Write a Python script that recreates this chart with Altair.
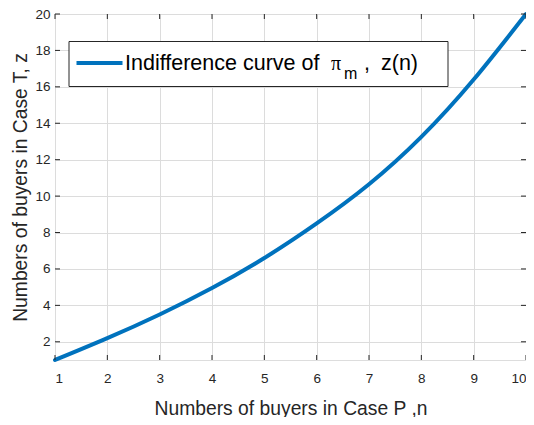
import altair as alt
import pandas as pd

# ---- data ----
n_values = [1, 2, 3, 4, 5, 6, 7, 8, 9, 10]
z_values = [1.0, 2.2, 3.5, 4.95, 6.6, 8.5, 10.65, 13.25, 16.4, 20.0]
x_ticks = [1, 2, 3, 4, 5, 6, 7, 8, 9, 10]
y_ticks = [2, 4, 6, 8, 10, 12, 14, 16, 18, 20]
x_label = "Numbers of buyers in Case P ,n"
y_label = "Numbers of buyers in Case T, z"
legend_main = "Indifference curve of"
legend_pi = "π"
legend_sub = "m"
legend_comma = ","
legend_tail = "z(n)"

W, H = 471, 346
FONT = "Liberation Sans"
DARK = "#262626"
BLUE = "#0072BD"

df = pd.DataFrame({"n": n_values, "z": z_values})
dfx = pd.DataFrame({"n": x_ticks})
dfy = pd.DataFrame({"z": y_ticks})
one = pd.DataFrame({"k": [0]})

xs = alt.Scale(domain=[1, 10], nice=False, zero=False)
ys = alt.Scale(domain=[1, 20], nice=False, zero=False)

x_axis = alt.Axis(
    values=x_ticks, title=x_label, grid=True, ticks=False, domain=False,
    labelPadding=11, labelFontSize=13.5, labelColor=DARK, labelFont=FONT,
    titleFont=FONT, titleFontSize=19.3, titleFontWeight="normal", titleColor=DARK,
    titleY=54, titleBaseline="alphabetic", gridColor="#dcdcdc", gridOpacity=1,
    labelFlush=True, labelOverlap=False)
y_axis = alt.Axis(
    values=y_ticks, title=y_label, grid=True, ticks=False, domain=False,
    labelPadding=5, labelFontSize=13.5, labelColor=DARK, labelFont=FONT,
    titleFont=FONT, titleFontSize=19.3, titleFontWeight="normal", titleColor=DARK,
    titleX=-29, titleY=173, titleBaseline="alphabetic", gridColor="#dcdcdc", gridOpacity=1,
    labelFlush=False, labelOverlap=False)

curve = alt.Chart(df).mark_line(
    color=BLUE, strokeWidth=4, interpolate="natural", strokeCap="round"
).encode(
    x=alt.X("n:Q", scale=xs, axis=x_axis),
    y=alt.Y("z:Q", scale=ys, axis=y_axis),
)

tick_len = 5
bottom_ticks = alt.Chart(dfx).mark_rule(color=DARK, strokeWidth=1).encode(
    x=alt.X("n:Q", scale=xs, axis=x_axis), y=alt.value(H), y2=alt.value(H - tick_len))
top_ticks = alt.Chart(dfx).mark_rule(color=DARK, strokeWidth=1).encode(
    x=alt.X("n:Q", scale=xs, axis=x_axis), y=alt.value(0), y2=alt.value(tick_len))
left_ticks = alt.Chart(dfy).mark_rule(color=DARK, strokeWidth=1).encode(
    y=alt.Y("z:Q", scale=ys, axis=y_axis), x=alt.value(0), x2=alt.value(tick_len))
right_ticks = alt.Chart(dfy).mark_rule(color=DARK, strokeWidth=1).encode(
    y=alt.Y("z:Q", scale=ys, axis=y_axis), x=alt.value(W), x2=alt.value(W - tick_len))

# ---- custom legend (MATLAB style box) ----
box = alt.Chart(one).mark_rect(fill="white", stroke=DARK, strokeWidth=1).encode(
    x=alt.value(14), x2=alt.value(393), y=alt.value(27.5), y2=alt.value(72.5))
sample = alt.Chart(one).mark_rule(color=BLUE, strokeWidth=4).encode(
    x=alt.value(21.5), x2=alt.value(67.5), y=alt.value(49))
txt = dict(color="black", align="left", baseline="alphabetic", fontWeight="normal")
t_main = alt.Chart(one).mark_text(
    text=legend_main, font=FONT, fontSize=21.5, **txt).encode(x=alt.value(70), y=alt.value(56))
t_pi = alt.Chart(one).mark_text(
    text=legend_pi, font="Liberation Serif", fontSize=20, **txt).encode(x=alt.value(276), y=alt.value(56))
t_sub = alt.Chart(one).mark_text(
    text=legend_sub, font=FONT, fontSize=16, **txt).encode(x=alt.value(289), y=alt.value(65))
t_comma = alt.Chart(one).mark_text(
    text=legend_comma, font=FONT, fontSize=21.5, **txt).encode(x=alt.value(309), y=alt.value(56))
t_tail = alt.Chart(one).mark_text(
    text=legend_tail, font=FONT, fontSize=21.5, **txt).encode(x=alt.value(326), y=alt.value(56))

chart = alt.layer(
    curve, bottom_ticks, top_ticks, left_ticks, right_ticks,
    box, sample, t_main, t_pi, t_sub, t_comma, t_tail
).properties(
    width=W, height=H,
    autosize=alt.AutoSizeParams(type="none"),
    padding={"left": 47, "top": 6, "right": 0, "bottom": 57},
    background="white",
).configure_view(
    stroke=DARK, strokeWidth=1
).configure(font=FONT)

chart.save("out.html", embed_options={"renderer": "svg", "actions": False})
